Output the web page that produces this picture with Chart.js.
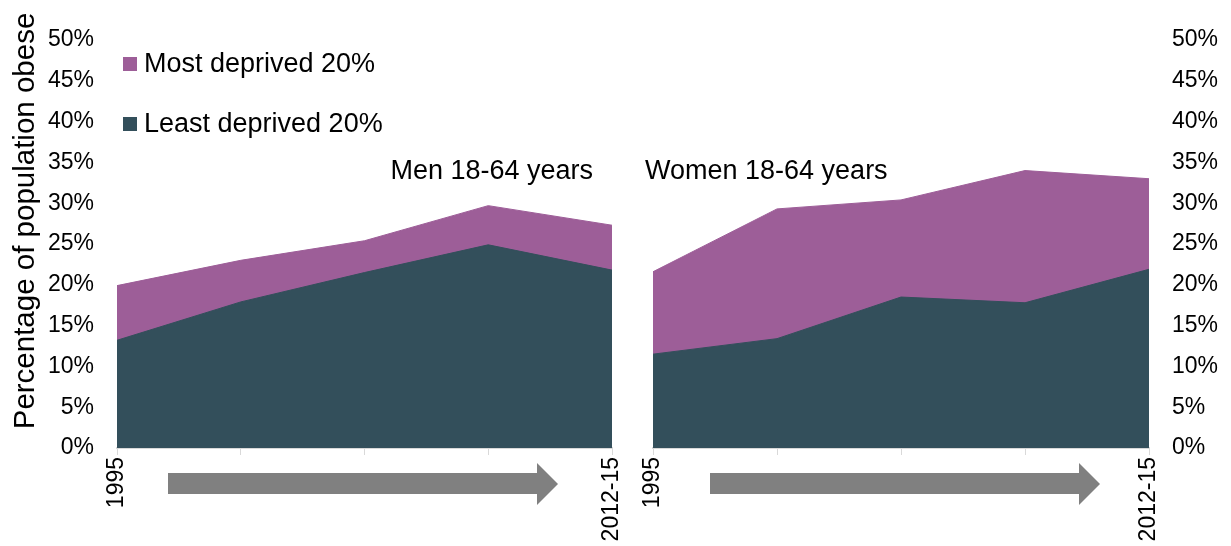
<!DOCTYPE html>
<html>
<head>
<meta charset="utf-8">
<script src="https://cdn.jsdelivr.net/npm/chart.js@4.4.0/dist/chart.umd.min.js"></script>
<style>
  html, body { margin: 0; padding: 0; background: #fff; }
  #wrap { position: relative; width: 1231px; height: 546px; }
  canvas { position: absolute; top: 0; }
</style>
</head>
<body>
<div id="wrap">
  <canvas id="men" width="630" height="546" style="left:0;width:630px;height:546px"></canvas>
  <canvas id="women" width="601" height="546" style="left:630px;width:601px;height:546px"></canvas>
</div>
<script>
// data (percent)
const categories = ['1995', '', '', '', '2012-15'];
const menMostDeprived = [19.9, 23.0, 25.4, 29.7, 27.3];
const menLeastDeprived = [13.2, 17.9, 21.5, 24.9, 21.8];
const womenMostDeprived = [21.6, 29.3, 30.4, 34.0, 33.0];
const womenLeastDeprived = [11.5, 13.4, 18.5, 17.8, 21.9];
const seriesLabels = ['Most deprived 20%', 'Least deprived 20%'];
const yMin = 0, yMax = 50, yStep = 5;

const PURPLE = '#9d5e98';
const SLATE = '#334f5b';
const GREY = '#808080';
const AXIS = '#d9d9d9';
const FONT = '"Liberation Sans", Arial, sans-serif';

Chart.defaults.font.family = FONT;
Chart.defaults.color = '#000';

// titles, legend, axis title and the grey time arrows
const decor = {
  id: 'decor',
  afterDraw(chart, args, opts) {
    const { ctx, chartArea: a } = chart;
    ctx.save();

    // arrow below the x axis
    const x0 = a.left + opts.arrowStart;
    const tip = a.right - opts.arrowTipInset;
    const base = tip - 21;
    ctx.fillStyle = GREY;
    ctx.beginPath();
    ctx.moveTo(x0, a.bottom + 25);
    ctx.lineTo(base, a.bottom + 25);
    ctx.lineTo(base, a.bottom + 15);
    ctx.lineTo(tip, a.bottom + 36);
    ctx.lineTo(base, a.bottom + 57);
    ctx.lineTo(base, a.bottom + 46);
    ctx.lineTo(x0, a.bottom + 46);
    ctx.closePath();
    ctx.fill();

    // panel title
    ctx.fillStyle = '#000';
    ctx.font = '27px ' + FONT;
    ctx.textBaseline = 'middle';
    ctx.textAlign = opts.titleAlign;
    const tx = opts.titleAlign === 'right' ? a.right - 19 : a.left - 8;
    ctx.fillText(opts.title, tx, a.top + 132);

    if (opts.legend) {
      // legend, same order as seriesLabels
      const ds = chart.data.datasets;
      seriesLabels.forEach((lbl, i) => {
        const d = ds.find(s => s.label === lbl);
        const cy = 64 + i * 60;
        ctx.fillStyle = d.backgroundColor;
        ctx.fillRect(123, cy - 7, 14, 14);
        ctx.fillStyle = '#000';
        ctx.textAlign = 'left';
        ctx.fillText(lbl, 144, cy + 1);
      });

      // y axis title
      ctx.save();
      ctx.translate(26, 221);
      ctx.rotate(-Math.PI / 2);
      ctx.textAlign = 'center';
      ctx.font = '29.5px ' + FONT;
      ctx.fillText('Percentage of population obese', 0, 0);
      ctx.restore();
    }
    ctx.restore();
  }
};

function makeChart(id, most, least, side, decorOpts) {
  return new Chart(document.getElementById(id), {
    type: 'line',
    data: {
      labels: categories,
      datasets: [
        {
          label: seriesLabels[0],
          data: most,
          backgroundColor: PURPLE,
          borderColor: PURPLE,
          borderWidth: 1,
          pointRadius: 0,
          tension: 0,
          fill: 'origin',
          order: 2
        },
        {
          label: seriesLabels[1],
          data: least,
          backgroundColor: SLATE,
          borderColor: SLATE,
          borderWidth: 1,
          pointRadius: 0,
          tension: 0,
          fill: 'origin',
          order: 1
        }
      ]
    },
    options: {
      responsive: false,
      animation: false,
      devicePixelRatio: 1,
      layout: {
        padding: side === 'left'
          ? { top: 40, right: 18, bottom: 0, left: 0 }
          : { top: 40, right: 0, bottom: 0, left: 23 }
      },
      plugins: {
        legend: { display: false },
        tooltip: { enabled: false },
        decor: decorOpts
      },
      scales: {
        x: {
          type: 'category',
          offset: false,
          grid: { display: true, drawOnChartArea: false, drawTicks: true, tickLength: 7, color: AXIS, lineWidth: 1 },
          border: { display: true, color: AXIS, width: 2 },
          ticks: { autoSkip: false, minRotation: 90, maxRotation: 90, padding: 2, color: '#000', font: { size: 23 } },
          afterFit(s) {
            s.height = 98;
            s.paddingLeft = 0;
            s.paddingRight = 0;
          }
        },
        y: {
          position: side,
          min: yMin,
          max: yMax,
          grid: { display: false },
          border: { display: false },
          ticks: { stepSize: yStep, padding: 15, color: '#000', font: { size: 23 }, callback: v => v + '%' },
          afterFit(s) { s.width = side === 'left' ? 117 : 82; }
        }
      }
    },
    plugins: [decor]
  });
}

makeChart('men', menMostDeprived, menLeastDeprived, 'left',
  { title: 'Men 18-64 years', titleAlign: 'right', legend: true, arrowStart: 51, arrowTipInset: 54 });
makeChart('women', womenMostDeprived, womenLeastDeprived, 'right',
  { title: 'Women 18-64 years', titleAlign: 'left', legend: false, arrowStart: 57, arrowTipInset: 49 });
</script>
</body>
</html>
